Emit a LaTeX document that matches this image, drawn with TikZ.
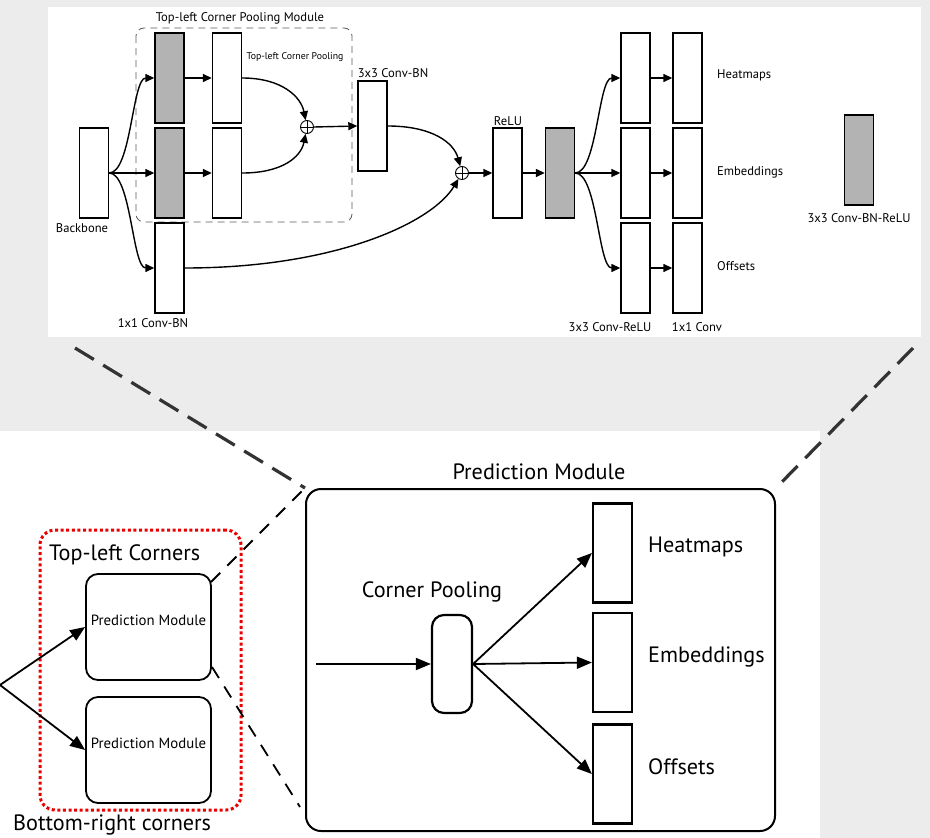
\documentclass[tikz,border=0pt]{standalone}
\usepackage{fontspec}
\setmainfont{PT Sans}
\usetikzlibrary{arrows.meta,calc}
\definecolor{bg}{RGB}{236,236,236}
\definecolor{boxgray}{RGB}{179,179,179}
\definecolor{dashgray}{RGB}{51,51,51}
\definecolor{dotred}{RGB}{235,0,0}
\begin{document}
\begin{tikzpicture}[x=1pt,y=-1pt,
  blk/.style={draw, line width=1.4pt, fill=white, minimum width=29pt, minimum height=90pt, inner sep=0pt},
  gblk/.style={blk, fill=boxgray},
  oplus/.style={circle, draw, line width=0.9pt, minimum size=13pt, inner sep=0pt, fill=white,
    path picture={\draw[line width=0.9pt] (path picture bounding box.north) -- (path picture bounding box.south) (path picture bounding box.west) -- (path picture bounding box.east);}},
  arr/.style={line width=1.4pt, -{Triangle[length=9pt,width=8pt]}},
  lbl/.style={inner sep=0pt, font=\fontsize{12.6}{14}\selectfont},
  slbl/.style={inner sep=0pt, font=\fontsize{9.8}{11}\selectfont},
  pm/.style={draw, line width=1.8pt, rounded corners=12pt, minimum width=125pt, minimum height=106pt, fill=white, inner sep=0pt, text depth=13pt, font=\fontsize{14.8}{16}\selectfont},
  obox/.style={draw, line width=2.2pt, minimum width=39pt, minimum height=99pt, inner sep=0pt},
  barr/.style={line width=1.8pt, -{Triangle[length=15pt,width=12pt]}},
  blbl/.style={inner sep=0pt, font=\fontsize{22.2}{25}\selectfont},
  sdash/.style={line width=1.8pt, dash pattern=on 13pt off 10pt},
  bdash/.style={line width=3.2pt, draw=dashgray, dash pattern=on 22pt off 11pt}
]
\useasboundingbox (0,0) rectangle (930,838);
% backgrounds
\fill[bg] (0,0) rectangle (930,838);
\fill[white] (48,7) rectangle (921,337);
\fill[white] (0,431) rectangle (820,838);

% ===== top panel =====
\draw[dashgray!80, line width=0.8pt, dash pattern=on 7pt off 5pt, rounded corners=8pt] (136,28) rectangle (352,222);
\node[lbl] (tmod) at (240,18) {Top-left Corner Pooling Module};
\node[slbl] (tpool) at (295,57) {Top-left Corner Pooling};

\node[blk] (bb) at (94,173) {};
\node[lbl] (bbl) at (82,228) {Backbone};
\node[gblk] (g1) at (169.5,78) {};
\node[gblk] (g2) at (169.5,173) {};
\node[blk] (w1) at (227,78) {};
\node[blk] (w2) at (227,173) {};
\node[blk] (c1) at (169.5,268) {};
\node[lbl] (c1l) at (153,323) {1x1 Conv-BN};
\node[oplus] (p1) at (307,127) {};
\node[blk] (c3) at (372.5,126) {};
\node[lbl] (c3l) at (393,73) {3x3 Conv-BN};
\node[oplus] (p2) at (462,173) {};
\node[blk] (relu) at (507.5,173) {};
\node[lbl] (relul) at (508,121) {ReLU};
\node[gblk] (gr) at (560,173) {};
\node[blk] (h1) at (635.5,78) {};
\node[blk] (e1) at (635.5,173) {};
\node[blk] (o1) at (635.5,268) {};
\node[blk] (h2) at (687.5,78) {};
\node[blk] (e2) at (687.5,173) {};
\node[blk] (o2) at (687.5,268) {};
\node[lbl] (l31) at (610,327) {3x3 Conv-ReLU};
\node[lbl] (l11) at (697,327) {1x1 Conv};
\node[lbl, anchor=west] (th) at (717,75) {Heatmaps};
\node[lbl, anchor=west] (te) at (717,172) {Embeddings};
\node[lbl, anchor=west] (to) at (717,266) {Offsets};
\node[gblk] (leg) at (859,160) {};
\node[lbl] (legl) at (859,218) {3x3 Conv-BN-ReLU};

\draw[arr] (bb.east) .. controls +(22,0) and +(-22,0) .. (g1.west);
\draw[arr] (bb.east) -- (g2.west);
\draw[arr] (bb.east) .. controls +(22,0) and +(-22,0) .. (c1.west);
\draw[arr] (g1.east) -- (w1.west);
\draw[arr] (g2.east) -- (w2.west);
\draw[arr] (w1.east) .. controls +(40,0) and +(-6,-30) .. (p1);
\draw[arr] (w2.east) .. controls +(40,0) and +(-6,30) .. (p1);
\draw[arr] (p1.east) -- (c3.west);
\draw[arr] (c3.east) .. controls +(45,0) and +(-8,-30) .. (p2);
\draw[arr] (c1.east) .. controls +(150,0) and +(-30,50) .. (p2);
\draw[arr] (p2.east) -- (relu.west);
\draw[arr] (relu.east) -- (gr.west);
\draw[arr] (gr.east) .. controls +(22,0) and +(-22,0) .. (h1.west);
\draw[arr] (gr.east) -- (e1.west);
\draw[arr] (gr.east) .. controls +(22,0) and +(-22,0) .. (o1.west);
\draw[arr] (h1.east) -- (h2.west);
\draw[arr] (e1.east) -- (e2.west);
\draw[arr] (o1.east) -- (o2.west);

% ===== bottom =====
\node[draw, line width=2pt, rounded corners=15pt, minimum width=469pt, minimum height=342pt, inner sep=0pt] (big) at (540.5,660) {};
\node[blbl] (bigl) at (539,472) {Prediction Module};
\node[draw, line width=2.2pt, rounded corners=12pt, minimum width=40pt, minimum height=98pt, inner sep=0pt] (cp) at (452,664) {};
\node[blbl] (cpl) at (432,592) {Corner Pooling};
\node[obox] (hb) at (612.5,553) {};
\node[obox] (eb) at (612.5,662.5) {};
\node[obox] (ob) at (612.5,774) {};
\node[blbl, anchor=west] (hbl) at (648,547) {Heatmaps};
\node[blbl, anchor=west] (ebl) at (648,657) {Embeddings};
\node[blbl, anchor=west] (obl) at (648,767) {Offsets};
\coordinate (in) at (316,664);
\draw[barr] (in) -- (cp.west);
\draw[barr] (cp.east) -- (hb.west);
\draw[barr] (cp.east) -- (eb.west);
\draw[barr] (cp.east) -- (ob.west);

\node[draw=dotred, line width=3pt, dash pattern=on 3pt off 2.6pt, rounded corners=15pt, minimum width=201pt, minimum height=280pt, inner sep=0pt] (grp) at (140.5,670) {};
\node[pm] (pm1) at (148.5,627) {Prediction Module};
\node[pm] (pm2) at (148.5,750) {Prediction Module};
\node[blbl, anchor=west] (tlc) at (49,555) {Top-left Corners};
\node[blbl, anchor=west] (brc) at (13,825) {Bottom-right corners};
\coordinate (src) at (0,685);
\draw[barr] (src) -- (pm1.west);
\draw[barr] (src) -- (pm2.west);

% zoom dashed lines
\coordinate (s1) at (211,582);
\coordinate (s2) at (212,667);
\coordinate (s2e) at (300,807);
\draw[sdash] (s1) -- (big.north west);
\draw[sdash] (s2) -- (s2e);
\coordinate (bl) at (75,348);
\coordinate (br) at (913,348);
\draw[bdash] (bl) -- (big.north west);
\draw[bdash] (br) -- (big.north east);
\end{tikzpicture}
\end{document}
